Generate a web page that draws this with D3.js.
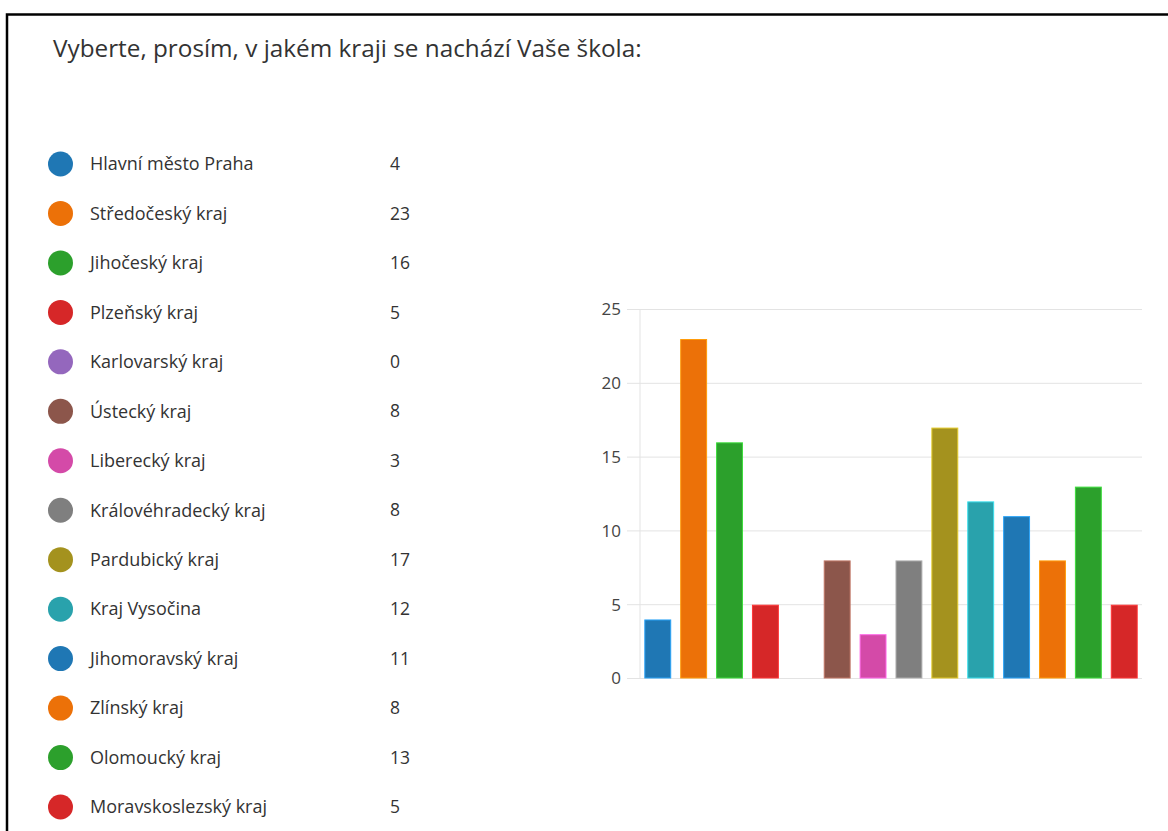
<!DOCTYPE html>
<html>
<head>
<meta charset="utf-8">
<script src="https://cdn.jsdelivr.net/npm/d3@7"></script>
<style>
  html, body { margin: 0; padding: 0; background: #fff; }
  svg { display: block; font-family: "Open Sans", "Noto Sans", sans-serif; }
</style>
</head>
<body>
<div id="chart"></div>
<script>
const title = "Vyberte, prosím, v jakém kraji se nachází Vaše škola:";

const regions = [
    "Hlavní město Praha", "Středočeský kraj", "Jihočeský kraj", "Plzeňský kraj",
    "Karlovarský kraj", "Ústecký kraj", "Liberecký kraj", "Královéhradecký kraj",
    "Pardubický kraj", "Kraj Vysočina", "Jihomoravský kraj", "Zlínský kraj",
    "Olomoucký kraj", "Moravskoslezský kraj"
];
const counts = [4, 23, 16, 5, 0, 8, 3, 8, 17, 12, 11, 8, 13, 5];
const colors = [
    "#1f77b4", "#ec7108", "#2ca02c", "#d62728", "#9467bd", "#8c564b", "#d44aa8",
    "#7f7f7f", "#a4921e", "#29a2ac", "#1f77b4", "#ec7108", "#2ca02c", "#d62728"
];
const yTicks = [0, 5, 10, 15, 20, 25];

const width = 1168;
const height = 831;

const svg = d3.select("#chart")
    .append("svg")
    .attr("width", width)
    .attr("height", height);

// frame of the screenshot
svg.append("rect")
    .attr("x", 7)
    .attr("y", 14.5)
    .attr("width", width + 20)
    .attr("height", height + 20)
    .attr("fill", "none")
    .attr("stroke", "#000")
    .attr("stroke-width", 2.5);

svg.append("text")
    .attr("x", 53)
    .attr("y", 57)
    .attr("font-size", "24.3px")
    .attr("fill", "#333")
    .text(title);

// legend list
const rowY = d3.scalePoint().domain(regions).range([164, 807]);

const rows = svg.append("g")
    .selectAll("g")
    .data(regions)
    .join("g")
    .attr("transform", d => `translate(0,${rowY(d)})`);

rows.append("circle")
    .attr("cx", 60.5)
    .attr("r", 12.5)
    .attr("fill", (d, i) => colors[i]);

rows.append("text")
    .attr("x", 90)
    .attr("dy", "0.35em")
    .attr("font-size", "18px")
    .attr("fill", "#333")
    .text(d => d);

rows.append("text")
    .attr("x", 390)
    .attr("dy", "0.35em")
    .attr("font-size", "17.5px")
    .attr("fill", "#333")
    .text((d, i) => counts[i]);

// bar chart
const x = d3.scaleBand()
    .domain(regions)
    .range([640, 1142])
    .paddingInner(0.25)
    .paddingOuter(0.12);

const y = d3.scaleLinear().domain([0, 25]).range([678.5, 309.5]);

const grid = svg.append("g");
grid.selectAll("line")
    .data(yTicks)
    .join("line")
    .attr("x1", 627)
    .attr("x2", 1142)
    .attr("y1", d => y(d))
    .attr("y2", d => y(d))
    .attr("stroke", "#e3e3e3")
    .attr("stroke-width", 1);

svg.append("line")
    .attr("x1", 640)
    .attr("x2", 640)
    .attr("y1", y(25))
    .attr("y2", y(0))
    .attr("stroke", "#e3e3e3");

svg.append("g")
    .selectAll("text")
    .data(yTicks)
    .join("text")
    .attr("x", 621)
    .attr("y", d => y(d))
    .attr("dy", "0.35em")
    .attr("text-anchor", "end")
    .attr("font-size", "17px")
    .attr("fill", "#444")
    .text(d => d);

svg.append("g")
    .selectAll("rect")
    .data(regions)
    .join("rect")
    .attr("x", d => x(d) + 0.5)
    .attr("y", (d, i) => y(counts[i]) + 0.5)
    .attr("width", x.bandwidth() - 1)
    .attr("height", (d, i) => Math.max(0, y(0) - y(counts[i]) - 1))
    .attr("fill", (d, i) => colors[i])
    .attr("stroke", (d, i) => d3.color(colors[i]).brighter(0.9))
    .attr("stroke-width", 1)
    .attr("display", (d, i) => counts[i] > 0 ? null : "none");
</script>
</body>
</html>
